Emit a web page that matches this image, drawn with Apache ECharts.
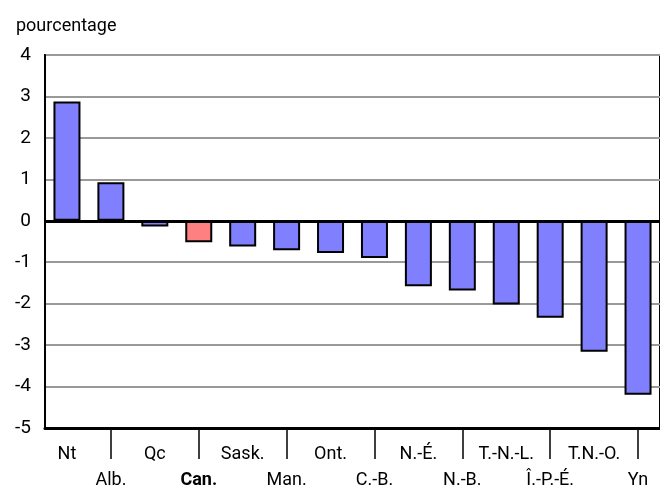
<!DOCTYPE html>
<html>
<head>
<meta charset="utf-8">
<script src="https://cdn.jsdelivr.net/npm/echarts@6/dist/echarts.min.js"></script>
<style>
  html, body { margin: 0; padding: 0; background: #fff; }
  #chart { width: 660px; height: 493px; }
</style>
</head>
<body>
<div id="chart"></div>
<script>
const regions = ["Nt", "Alb.", "Qc", "Can.", "Sask.", "Man.", "Ont.", "C.-B.", "N.-É.", "N.-B.", "T.-N.-L.", "Î.-P.-É.", "T.N.-O.", "Yn"]
const values = [2.88, 0.93, -0.14, -0.52, -0.62, -0.71, -0.78, -0.9, -1.58, -1.68, -2.02, -2.34, -3.16, -4.2]
const highlight = "Can."

const font = "Roboto, 'Liberation Sans', sans-serif"

const chart = echarts.init(document.getElementById("chart"))

chart.setOption({
  animation: false,
  title: {
    text: "pourcentage",
    left: 11,
    top: 12,
    textStyle: { fontFamily: font, fontSize: 18, fontWeight: "normal", color: "#000" }
  },
  grid: {
    left: 45,
    top: 55,
    bottom: 63,
    right: -4,
    show: true,
    borderColor: "#000",
    borderWidth: 2
  },
  xAxis: [
    {
      type: "category",
      data: regions,
      axisLine: { onZero: false, lineStyle: { color: "#000", width: 3 } },
      axisTick: { show: false },
      axisLabel: {
        interval: 0,
        fontFamily: font,
        fontSize: 18,
        color: "#000",
        margin: 13,
        lineHeight: 26,
        formatter: (v, i) => {
          const t = v === highlight ? "{b|" + v + "}" : v
          return i % 2 === 1 ? "\n" + t : t
        },
        rich: {
          b: { fontFamily: font, fontSize: 18, fontWeight: "bold", color: "#000", lineHeight: 26 }
        }
      }
    },
    {
      // long ticks between the top-row labels
      type: "category",
      data: regions,
      position: "bottom",
      axisLine: { show: false, onZero: false },
      axisLabel: { show: false },
      axisTick: {
        show: true,
        alignWithLabel: true,
        interval: (i) => i % 2 === 1,
        length: 31,
        lineStyle: { color: "#000", width: 1.5 }
      }
    }
  ],
  yAxis: {
    type: "value",
    min: -5,
    max: 4,
    interval: 1,
    axisLine: { show: true, lineStyle: { color: "#000", width: 2 } },
    axisTick: { show: false },
    axisLabel: { fontFamily: font, fontSize: 19, color: "#000", margin: 14 },
    splitLine: { lineStyle: { color: "#999", width: 2 } }
  },
  series: [
    {
      type: "bar",
      barWidth: 27,
      data: values.map((v, i) => ({
        value: v,
        itemStyle: { color: regions[i] === highlight ? "#FF8080" : "#8080FF" }
      })),
      itemStyle: { borderColor: "#000", borderWidth: 2 },
      markLine: {
        silent: true,
        symbol: "none",
        label: { show: false },
        lineStyle: { color: "#000", width: 3, type: "solid" },
        data: [{ yAxis: 0 }]
      }
    }
  ]
})
</script>
</body>
</html>
